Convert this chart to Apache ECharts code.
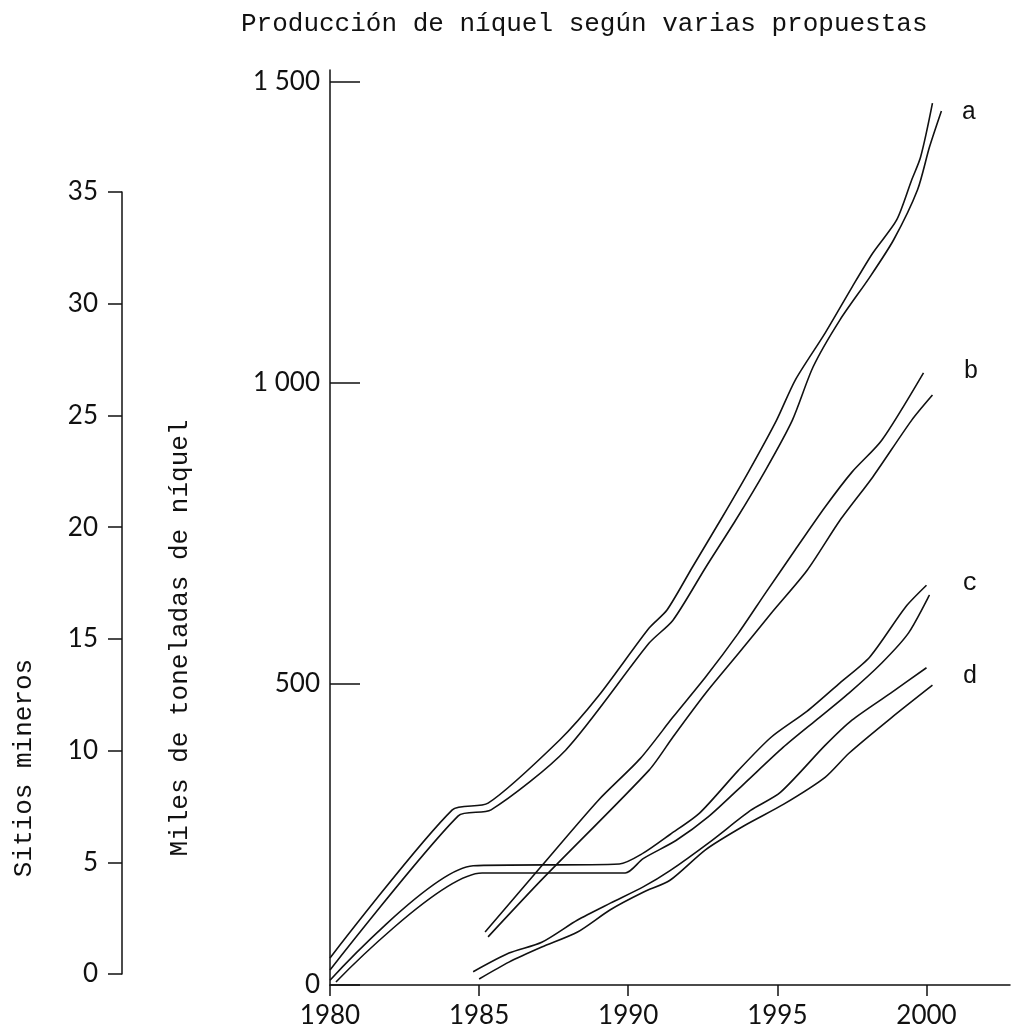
<!DOCTYPE html>
<html>
<head>
<meta charset="utf-8">
<script src="https://cdn.jsdelivr.net/npm/echarts@6/dist/echarts.min.js"></script>
<style>
html,body{margin:0;padding:0;background:#fff;}
#chart{width:1012px;height:1031px;}
</style>
</head>
<body>
<div id="chart"></div>
<script>
// ---- data ----
const xTicks = [1980, 1985, 1990, 1995, 2000];
const yTicks = [0, 500, 1000, 1500];
const yTickLabels = ['0', '500', '1 000', '1 500'];
const sitiosTicks = [0, 5, 10, 15, 20, 25, 30, 35];

const aUpper = [[1980,45],[1984.1,291],[1985.3,302],[1987.7,407],[1989,480],[1990.7,593],[1991.3,623],[1992.15,694],[1993.15,777],[1994.06,855],[1994.97,938],[1995.6,1005],[1996.6,1083],[1997.5,1159],[1998.2,1216],[1999.0,1271],[1999.5,1337],[1999.8,1375],[2000.2,1465]];
const aLower = [[1980,25],[1984.3,281],[1985.4,291],[1987.9,390],[1990.7,568],[1991.5,606],[1992.6,694],[1993.6,772],[1994.6,855],[1995.5,938],[1996.2,1027],[1997.1,1105],[1998.1,1176],[1998.9,1238],[1999.7,1321],[2000.1,1392],[2000.5,1452]];
const bUpper = [[1985.2,88],[1987.1,198],[1989.0,307],[1990.4,376],[1991.5,445],[1992.6,512],[1993.7,585],[1994.6,651],[1995.6,723],[1996.6,794],[1997.5,852],[1998.5,905],[1999.9,1017]];
const bLower = [[1985.3,80],[1987.1,175],[1990.7,357],[1991.5,412],[1992.6,485],[1993.7,551],[1994.8,618],[1996.0,689],[1997.1,772],[1998.2,844],[1999.5,938],[2000.2,980]];
const cUpper = [[1980,8],[1984.8,198],[1989.7,201],[1990.5,219],[1991.4,250],[1992.4,286],[1993.7,357],[1994.8,412],[1996.0,455],[1997.1,502],[1998.1,545],[1999.3,628],[2000,664]];
const cLower = [[1980.2,5],[1985.1,186],[1989.9,186],[1990.5,210],[1991.6,240],[1992.7,280],[1993.9,335],[1995.2,395],[1996.3,440],[1997.4,485],[1998.5,535],[1999.4,585],[2000.1,648]];
const dUpper = [[1984.8,22],[1986,53],[1987.1,71],[1988.3,108],[1989.4,136],[1990.5,163],[1991.4,190],[1992.8,240],[1994.1,290],[1995.1,320],[1996.6,398],[1997.5,440],[1998.8,485],[2000,527]];
const dLower = [[1985,10],[1986,38],[1987.1,63],[1988.3,88],[1989.4,125],[1990.5,154],[1991.4,174],[1992.6,225],[1993.9,265],[1995.2,300],[1996.6,345],[1997.4,385],[1998.8,443],[2000.2,498]];

const seriesLabels = ['a', 'b', 'c', 'd'];

// ---- styles ----
const MONO = '"Liberation Mono", "DejaVu Sans Mono", monospace';
const SANS = 'Lato, "Open Sans", "DejaVu Sans", sans-serif';
const INK = '#111';

function lineSeries(name, data, label, dist, off) {
  const s = {
    name: name, type: 'line', data: data, xAxisIndex: 0, yAxisIndex: 0,
    symbol: 'none', smooth: 0.25, silent: true,
    lineStyle: { color: INK, width: 1.6 },
    z: 3
  };
  if (label) {
    s.endLabel = {
      show: true, formatter: label, distance: dist, offset: off || [0, 0],
      fontFamily: MONO, fontSize: 25, color: INK
    };
  }
  return s;
}

const chart = echarts.init(document.getElementById('chart'), null, { renderer: 'canvas' });
chart.setOption({
  backgroundColor: '#fff',
  animation: false,
  title: {
    text: 'Producción de níquel según varias propuestas',
    left: 236, top: 6,
    textStyle: { fontFamily: MONO, fontSize: 26, fontWeight: 'normal', color: INK }
  },
  grid: [
    { left: 330, right: 2, top: 70, bottom: 46 },
    { left: 122, width: 1, top: 192, bottom: 57 }
  ],
  xAxis: [
    {
      type: 'value', gridIndex: 0, min: 1980, max: 2002.8,
      axisLine: { lineStyle: { color: INK, width: 1.5 } },
      axisTick: { customValues: xTicks, length: 11, lineStyle: { color: INK, width: 1.5 } },
      axisLabel: { customValues: xTicks, margin: 18, fontFamily: SANS, fontSize: 26, color: INK,
        formatter: function (v) { return String(v); } },
      splitLine: { show: false }
    },
    { type: 'value', gridIndex: 1, show: false, min: 0, max: 1 }
  ],
  yAxis: [
    {
      type: 'value', gridIndex: 0, min: 0, max: 1520,
      axisLine: { show: true, lineStyle: { color: INK, width: 1.5 } },
      axisTick: { show: true, inside: true, customValues: yTicks, length: 30, lineStyle: { color: INK, width: 1.5 } },
      axisLabel: {
        customValues: yTicks, margin: 10, fontFamily: SANS, fontSize: 26, color: INK,
        formatter: function (v) { return yTickLabels[yTicks.indexOf(v)]; }
      },
      splitLine: { show: false }
    },
    {
      type: 'value', gridIndex: 1, min: 0, max: 35, interval: 5,
      axisLine: { show: true, lineStyle: { color: INK, width: 1.5 } },
      axisTick: { show: true, length: 14, lineStyle: { color: INK, width: 1.5 } },
      axisLabel: { margin: 24, fontFamily: SANS, fontSize: 26, color: INK,
        customValues: sitiosTicks, formatter: function (v) { return String(v); } },
      splitLine: { show: false }
    }
  ],
  graphic: [
    {
      type: 'text', x: 180, y: 638, rotation: Math.PI / 2,
      style: { text: 'Miles de toneladas de níquel', fontFamily: MONO, fontSize: 26,
        fill: INK, textAlign: 'center', textVerticalAlign: 'middle' }
    },
    {
      type: 'text', x: 24, y: 768, rotation: Math.PI / 2,
      style: { text: 'Sitios mineros', fontFamily: MONO, fontSize: 26,
        fill: INK, textAlign: 'center', textVerticalAlign: 'middle' }
    }
  ],
  series: [
    lineSeries('a1', aUpper),
    lineSeries('a2', aLower, seriesLabels[0], 20, [0, 1]),
    lineSeries('b1', bUpper, seriesLabels[1], 40, [0, -1]),
    lineSeries('b2', bLower),
    lineSeries('c1', cUpper, seriesLabels[2], 36, [0, -2]),
    lineSeries('c2', cLower),
    lineSeries('d1', dUpper, seriesLabels[3], 36, [0, 9]),
    lineSeries('d2', dLower)
  ]
});
</script>
</body>
</html>
